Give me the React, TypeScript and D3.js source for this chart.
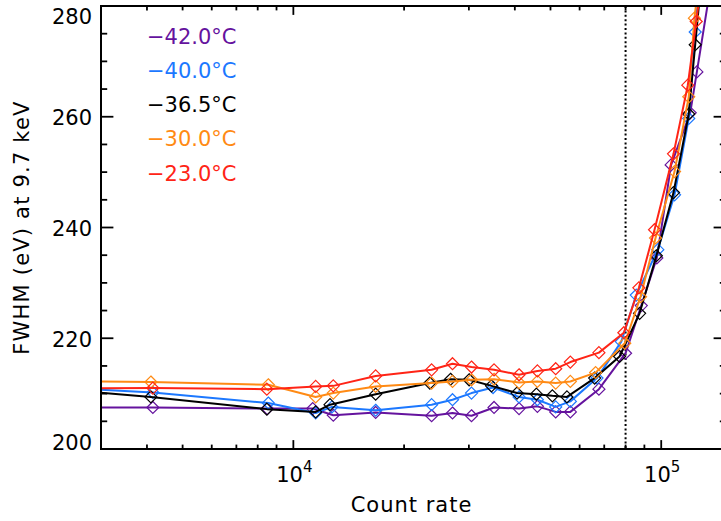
import React from "react";
import * as d3 from "d3";

// Canvas and plot box (the right frame sits just past the visible edge)
const WIDTH = 721;
const HEIGHT = 521;
const PLOT = { left: 101, right: 726, top: 6, bottom: 449 };

// Series labels and colours (drawn in this order, red on top)
const seriesLabels = ["−42.0°C", "−40.0°C", "−36.5°C", "−30.0°C", "−23.0°C"];
const seriesColors = ["#65139e", "#1c78ff", "#000000", "#ff8a14", "#ff2416"];

// Count rate / FWHM (eV) measurements per temperature
const rateM42 = [2000, 4150, 8500, 11290, 12840, 16740, 23760, 27080, 30500, 35120, 41070, 46070, 51660, 56620, 67710, 80000, 88270, 97280, 106400, 119900, 125000, 135000];
const fwhmM42 = [207.5, 207.5, 207.3, 207.3, 206.1, 206.6, 206.0, 206.5, 206.0, 207.5, 207.3, 207.7, 206.7, 206.7, 210.8, 217.3, 225.9, 234.5, 251.3, 260.7, 268.1, 282.0];

const rateM40 = [2000, 4150, 8550, 11500, 12730, 16740, 23760, 27080, 30500, 34900, 41070, 46070, 51660, 56620, 66900, 77880, 85540, 97900, 108700, 118800, 123700, 135000];
const fwhmM40 = [211.3, 210.2, 208.3, 206.5, 207.6, 207.0, 208.0, 208.9, 210.1, 211.1, 209.4, 208.9, 207.6, 208.6, 212.8, 219.4, 227.8, 236.0, 245.9, 259.7, 275.3, 305.0];

const rateM365 = [2000, 4100, 8470, 11500, 12580, 16740, 23500, 26750, 30050, 34560, 40550, 45780, 50600, 55430, 65920, 77060, 87340, 97000, 108000, 118800, 123700, 135000];
const fwhmM365 = [211.1, 209.4, 207.2, 206.7, 208.0, 209.9, 211.9, 212.6, 212.5, 211.4, 210.1, 209.9, 209.6, 209.4, 212.8, 216.7, 224.5, 234.9, 246.3, 260.5, 273.0, 300.0];

const rateM30 = [2000, 4100, 8550, 11500, 12840, 16740, 23760, 27080, 30500, 35120, 41070, 46070, 51660, 56620, 66330, 79600, 87880, 96500, 108700, 118800, 123100, 135000];
const fwhmM30 = [212.3, 212.1, 211.6, 209.4, 210.1, 211.3, 211.9, 212.2, 212.5, 212.6, 212.0, 212.2, 211.9, 212.2, 213.8, 219.1, 227.5, 238.1, 250.1, 263.6, 277.8, 300.0];

const rateM23 = [2000, 4150, 8470, 11500, 12840, 16740, 23760, 27080, 30500, 35120, 41070, 46070, 51660, 56620, 67710, 79140, 86950, 95900, 108000, 118100, 124500, 135000];
const fwhmM23 = [210.9, 211.0, 210.8, 211.3, 211.4, 213.2, 214.3, 215.4, 214.8, 214.3, 213.4, 214.1, 214.5, 215.7, 217.4, 221.0, 229.1, 239.6, 253.3, 265.7, 277.2, 295.0];

const seriesRates = [rateM42, rateM40, rateM365, rateM30, rateM23];
const seriesFwhm = [fwhmM42, fwhmM40, fwhmM365, fwhmM30, fwhmM23];

// Axis settings
const xDomain = [3000, 150000];
const yDomain = [200, 280];
const yMajorTicks = [200, 220, 240, 260, 280];
const xMajorTicks = [10000, 100000];
const xMajorExponents = ["4", "5"];
const referenceRate = 80000;

const FONT = "'DejaVu Sans', sans-serif";

export default function App() {
  const x = d3.scaleLog().domain(xDomain).range([PLOT.left, PLOT.right]);
  const y = d3.scaleLinear().domain(yDomain).range([PLOT.bottom, PLOT.top]);

  const line = d3
    .line<[number, number]>()
    .x((d) => x(d[0]))
    .y((d) => y(d[1]));

  const xMinor: number[] = [];
  for (let dec = 1000; dec <= 100000; dec *= 10) {
    for (let m = 2; m <= 9; m++) {
      const v = dec * m;
      if (v > xDomain[0] && v < xDomain[1] && !xMajorTicks.includes(v)) xMinor.push(v);
    }
  }
  const yMinor = d3.range(205, 280, 5).filter((v) => v % 20 !== 0);

  const xMajLen = 8.9;
  const xMinLen = 4.4;
  const yMajLen = 12.4;
  const yMinLen = 6.2;

  const diamond = (cx: number, cy: number, r = 6) =>
    `M${cx},${cy - r}L${cx + r},${cy}L${cx},${cy + r}L${cx - r},${cy}Z`;

  const plotW = PLOT.right - PLOT.left;
  const plotH = PLOT.bottom - PLOT.top;

  return (
    <svg
      width={WIDTH}
      height={HEIGHT}
      style={{ position: "absolute", left: 0, top: 0, background: "#fff" }}
      fontFamily={FONT}
    >
      <defs>
        <clipPath id="plot-clip">
          <rect x={PLOT.left} y={PLOT.top} width={plotW} height={plotH} />
        </clipPath>
      </defs>
      <rect x={0} y={0} width={WIDTH} height={HEIGHT} fill="#fff" />

      {/* reference count rate */}
      <line
        x1={x(referenceRate)}
        x2={x(referenceRate)}
        y1={PLOT.top}
        y2={PLOT.bottom}
        stroke="#000"
        strokeWidth={2}
        strokeDasharray="2,2.4"
      />

      {/* series */}
      <g clipPath="url(#plot-clip)">
        {seriesRates.map((rates, i) => {
          const pts: [number, number][] = rates.map((r, j) => [r, seriesFwhm[i][j]]);
          return (
            <g key={i}>
              <path d={line(pts) || ""} fill="none" stroke={seriesColors[i]} strokeWidth={2} strokeLinejoin="round" />
              {pts.map((p, j) => (
                <path key={j} d={diamond(x(p[0]), y(p[1]))} fill="none" stroke={seriesColors[i]} strokeWidth={1.2} />
              ))}
            </g>
          );
        })}
      </g>

      {/* frame */}
      <rect x={PLOT.left} y={PLOT.top} width={plotW} height={plotH} fill="none" stroke="#000" strokeWidth={2} />

      {/* ticks on all four sides, pointing inward */}
      <g stroke="#000" strokeWidth={1.8}>
        {xMajorTicks.map((v) => (
          <g key={v}>
            <line x1={x(v)} x2={x(v)} y1={PLOT.bottom} y2={PLOT.bottom - xMajLen} />
            <line x1={x(v)} x2={x(v)} y1={PLOT.top} y2={PLOT.top + xMajLen} />
          </g>
        ))}
        {xMinor.map((v) => (
          <g key={v}>
            <line x1={x(v)} x2={x(v)} y1={PLOT.bottom} y2={PLOT.bottom - xMinLen} />
            <line x1={x(v)} x2={x(v)} y1={PLOT.top} y2={PLOT.top + xMinLen} />
          </g>
        ))}
        {yMajorTicks.map((v) => (
          <g key={v}>
            <line x1={PLOT.left} x2={PLOT.left + yMajLen} y1={y(v)} y2={y(v)} />
            <line x1={PLOT.right} x2={PLOT.right - yMajLen} y1={y(v)} y2={y(v)} />
          </g>
        ))}
        {yMinor.map((v) => (
          <g key={v}>
            <line x1={PLOT.left} x2={PLOT.left + yMinLen} y1={y(v)} y2={y(v)} />
            <line x1={PLOT.right} x2={PLOT.right - yMinLen} y1={y(v)} y2={y(v)} />
          </g>
        ))}
      </g>

      {/* y tick labels */}
      <g fontSize={21} fill="#000" textAnchor="end">
        {yMajorTicks.map((v) => (
          <text key={v} x={92} y={Math.min(Math.max(y(v) + 8.5, 23.5), 450)}>
            {v}
          </text>
        ))}
      </g>

      {/* x tick labels */}
      <g fontSize={21} fill="#000" textAnchor="middle">
        {xMajorTicks.map((v, i) => (
          <text key={v} x={x(v) + 1} y={482}>
            10
            <tspan fontSize={15} dy={-10}>
              {xMajorExponents[i]}
            </tspan>
          </text>
        ))}
      </g>

      {/* axis titles */}
      <text x={(PLOT.left + Math.min(PLOT.right, 722)) / 2} y={511.5} fontSize={21} textAnchor="middle" letterSpacing={1}>
        Count rate
      </text>
      <text
        transform={`translate(28.5, ${(PLOT.top + PLOT.bottom) / 2}) rotate(-90)`}
        fontSize={21}
        textAnchor="middle"
        letterSpacing={1.2}
      >
        FWHM (eV) at 9.7 keV
      </text>

      {/* legend */}
      <g fontSize={21}>
        {seriesLabels.map((t, i) => (
          <text key={t} x={147} y={43.5 + i * 34.3} fill={seriesColors[i]}>
            {t}
          </text>
        ))}
      </g>
    </svg>
  );
}
